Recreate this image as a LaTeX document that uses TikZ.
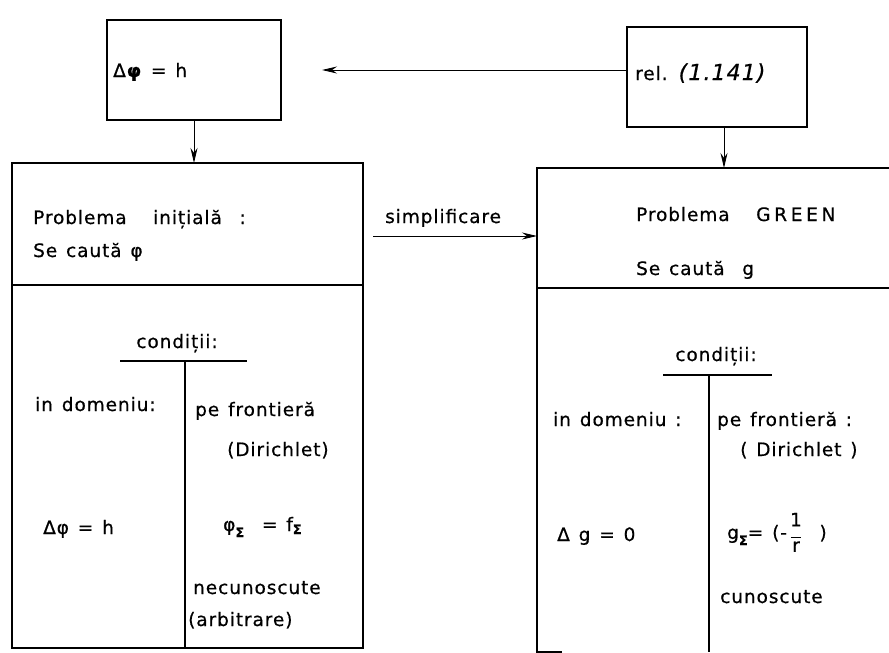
\documentclass[tikz,border=0pt]{standalone}
\usepackage{fontspec}
\setmainfont{DejaVu Sans}[LetterSpace=5, WordSpace=1.3, FakeBold=0.6]
\usetikzlibrary{arrows.meta}
\newcommand{\subSig}[1][-6pt]{\raisebox{#1}{\fontsize{13}{13}\selectfont\bfseries Σ}}
\newcommand{\onefrac}{{\renewcommand{\arraystretch}{0.75}\begin{tabular}{@{}c@{}}1\\[-4pt]\rule{10pt}{0.9pt}\\[-2pt]r\end{tabular}}}
\newcommand{\wide}[1]{{\addfontfeature{LetterSpace=20}#1}}
\begin{document}
\begin{tikzpicture}[x=1pt, y=-1pt, font=\fontsize{18.5}{21}\selectfont]
\tikzset{
  box/.style={draw, line width=2pt, rectangle, inner sep=0pt, outer sep=0pt},
  frame/.style={rectangle, inner sep=0pt, outer sep=0pt},
  edge/.style={line width=2pt},
  divider/.style={line width=1.5pt},
  thinline/.style={line width=1.1pt},
  lbl/.style={anchor=base west, inner sep=0pt},
  lblc/.style={anchor=base, inner sep=0pt},
  conn/.style={line width=1pt, -{Stealth[length=15pt, width=7pt]}},
}
\useasboundingbox (0,0) rectangle (889,653);

% top boxes
\node[box, minimum width=174pt, minimum height=100pt] (dphi) at (194,70) {};
\node[lbl] (dphitxt) at (113,77) {Δ\textbf{φ} = h};
\node[box, minimum width=180pt, minimum height=100pt] (rel) at (717,77) {};
\node[lbl] (reltxt) at (635,80) {rel. {\fontsize{22}{22}\selectfont\itshape (1.141)}};
\coordinate (aend) at (322,70);
\draw[conn] ([yshift=7pt]rel.west) -- (aend);

% left big box
\node[box, minimum width=351pt, minimum height=485pt] (L) at (187.5,405.5) {};
\coordinate (ldiv) at (0,285);
\draw[divider] (L.west |- ldiv) -- (L.east |- ldiv);
\draw[conn] (dphi.south) -- (dphi.south |- L.north);

\node[lbl] (l1) at (33,224) {Problema\ \ \ inițială\ \ :};
\node[lbl] (l2) at (33,257) {Se caută φ};
\node[lblc] (lcond) at (177,348) {condiții:};
\coordinate (lu1) at (120,361);
\coordinate (lu2) at (247,361);
\draw[thinline] (lu1) -- (lu2);
\coordinate (lv) at (185,361);
\draw[thinline] (lv) -- (lv |- L.south);
\node[lbl] (l3) at (35,411) {in domeniu:};
\node[lbl] (l4) at (195,416) {pe frontieră};
\node[lbl] (l5) at (227,456) {(Dirichlet)};
\node[lbl] (l6) at (43,534) {Δφ = h};
\node[lbl] (l7) at (223,531) {φ\subSig\ \ = f\subSig[-3pt]};
\node[lbl] (l8) at (193,594) {necunoscute};
\node[lbl] (l9) at (188,626) {(arbitrare)};

% right big box (cut at the page edge)
\node[frame, minimum width=352pt, minimum height=484pt] (R) at (713,410) {};
\draw[edge] (R.north east) -- (R.north west) -- (R.south west) -- ([xshift=25pt]R.south west);
\coordinate (rdiv) at (0,288);
\draw[divider] (R.west |- rdiv) -- (R.east |- rdiv);
\draw[conn] ([xshift=7pt]rel.south) -- ([xshift=7pt]rel.south |- R.north);

\node[lbl] (r1) at (636,221) {Problema\ \ \ \wide{GREEN}};
\node[lbl] (r2) at (636,275) {Se caută\ \ g};
\node[lblc] (rcond) at (716,361) {condiții:};
\coordinate (ru1) at (663,375);
\coordinate (ru2) at (772,375);
\draw[thinline] (ru1) -- (ru2);
\coordinate (rv) at (709,375);
\draw[thinline] (rv) -- (rv |- R.south);
\node[lbl] (r3) at (553,426) {in domeniu :};
\node[lbl] (r4) at (717,426) {pe frontieră :};
\node[lbl] (r5) at (740,456) {( Dirichlet )};
\node[lbl] (r6) at (557,541) {Δ g = 0};
\node[lbl] (r7) at (727,539) {g\subSig= (-\,\onefrac\ \ )};
\node[lbl] (r8) at (720,603) {cunoscute};

% simplificare arrow
\node[lbl] (simp) at (385,223) {simplificare};
\coordinate (sstart) at (373,236);
\draw[conn] (sstart) -- (sstart -| R.west);
\end{tikzpicture}
\end{document}
